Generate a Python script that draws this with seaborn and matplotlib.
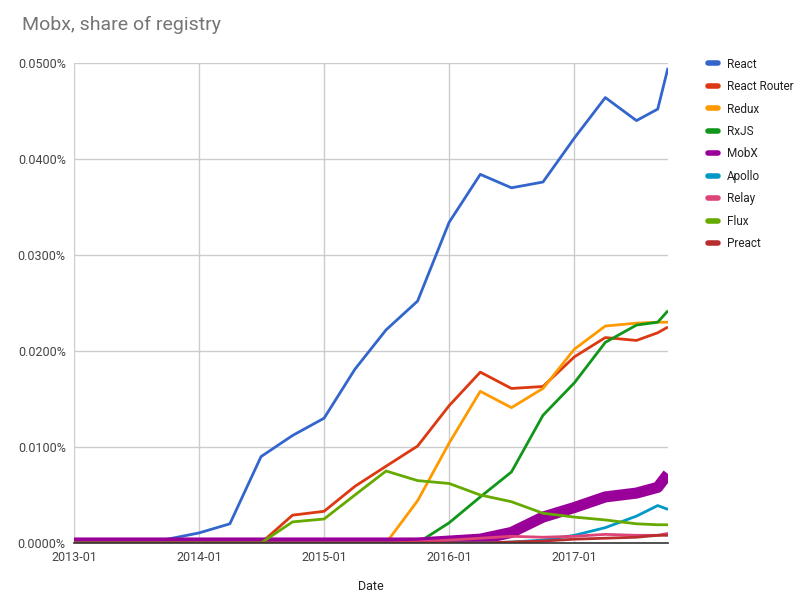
import pandas as pd
import matplotlib
matplotlib.use("Agg")
import matplotlib.pyplot as plt
import matplotlib.dates as mdates
from matplotlib.ticker import FuncFormatter
from matplotlib.lines import Line2D
import seaborn as sns

# quarterly points, then monthly at the end
dates = ["2013-01", "2013-04", "2013-07", "2013-10", "2014-01", "2014-04", "2014-07",
         "2014-10", "2015-01", "2015-04", "2015-07", "2015-10", "2016-01", "2016-04",
         "2016-07", "2016-10", "2017-01", "2017-04", "2017-07", "2017-09", "2017-10"]

react = [0, 0, 0, 0.0004, 0.00105, 0.0020, 0.0090, 0.0112, 0.0130, 0.0181, 0.0222,
         0.0252, 0.0334, 0.0384, 0.0370, 0.0376, 0.0422, 0.0464, 0.0440, 0.0452, 0.0495]
react_router = [0, 0, 0, 0, 0, 0, 0, 0.0029, 0.0033, 0.0059, 0.0080,
                0.0101, 0.0143, 0.0178, 0.0161, 0.0163, 0.0194, 0.0214, 0.0211, 0.0219, 0.0225]
redux = [0, 0, 0, 0, 0, 0, 0, 0, 0, 0, 0,
         0.0044, 0.0104, 0.0158, 0.0141, 0.0161, 0.0202, 0.0226, 0.0229, 0.0230, 0.0230]
rxjs = [0, 0, 0, 0, 0, 0, 0, 0, 0, 0, 0,
        0, 0.0021, 0.0048, 0.0074, 0.0133, 0.0167, 0.0209, 0.0227, 0.0230, 0.0242]
mobx = [0, 0, 0, 0, 0, 0, 0, 0, 0, 0, 0,
        0, 0.0002, 0.0004, 0.0011, 0.0027, 0.0037, 0.0048, 0.0052, 0.0058, 0.0072]
apollo = [0, 0, 0, 0, 0, 0, 0, 0, 0, 0, 0,
          0, 0, 0, 0.0001, 0.0003, 0.0008, 0.0016, 0.0028, 0.0039, 0.0035]
relay = [0, 0, 0, 0, 0, 0, 0, 0, 0, 0, 0,
         0.0001, 0.0003, 0.0005, 0.0007, 0.0006, 0.0007, 0.0009, 0.0008, 0.0008, 0.0010]
flux = [0, 0, 0, 0, 0, 0, 0, 0.0022, 0.0025, 0.0050, 0.0075,
        0.0065, 0.0062, 0.0050, 0.0043, 0.0031, 0.0027, 0.0024, 0.0020, 0.0019, 0.0019]
preact = [0, 0, 0, 0, 0, 0, 0, 0, 0, 0, 0,
          0, 0, 0, 0.0001, 0.0002, 0.0004, 0.0005, 0.0006, 0.0008, 0.0008]

names = ["React", "React Router", "Redux", "RxJS", "MobX", "Apollo", "Relay", "Flux", "Preact"]
series = [react, react_router, redux, rxjs, mobx, apollo, relay, flux, preact]
colors = ["#3366cc", "#dc3912", "#ff9900", "#109618", "#990099",
          "#0099c6", "#dd4477", "#66aa00", "#b82e2e"]

df = pd.DataFrame({"Date": pd.to_datetime(dates)})
for name, vals in zip(names, series):
    df[name] = vals
long_df = df.melt(id_vars="Date", var_name="lib", value_name="share")

sns.set_style("white")
plt.rcParams["font.family"] = ["Roboto", "DejaVu Sans"]

fig = plt.figure(figsize=(8.05, 6.04), dpi=100)
ax = fig.add_axes([74 / 805, 1 - 543 / 604, (668 - 74) / 805, (543 - 63) / 604])

for name, col in zip(names, colors):
    lw = 8 if name == "MobX" else 2
    sns.lineplot(data=long_df[long_df["lib"] == name], x="Date", y="share",
                 color=col, linewidth=lw, ax=ax, legend=False,
                 solid_joinstyle="round", solid_capstyle="butt")

ax.set_xlim(pd.Timestamp("2013-01-01"), pd.Timestamp("2017-10-01"))
ax.set_ylim(0, 0.05)
ax.yaxis.set_major_locator(plt.MultipleLocator(0.01))
ax.yaxis.set_major_formatter(FuncFormatter(lambda v, p: f"{v:.4f}%"))
ax.xaxis.set_major_locator(mdates.YearLocator())
ax.xaxis.set_major_formatter(mdates.DateFormatter("%Y-%m"))

ax.grid(True, color="#cccccc", linewidth=1)
ax.set_axisbelow(True)
for s in ["top", "right", "left"]:
    ax.spines[s].set_visible(False)
ax.spines["bottom"].set_color("#333333")
ax.spines["bottom"].set_linewidth(1.2)
ax.tick_params(axis="both", length=0, labelsize=9, colors="#444444", pad=6)

ax.set_xlabel("Date", fontsize=9, color="#222222", labelpad=11)
ax.set_ylabel("")

fig.text(22 / 805, 1 - 25 / 604, "Mobx, share of registry", fontsize=14,
         color="#757575", va="center", ha="left")

handles = [Line2D([0], [0], color=c, linewidth=4) for c in colors]
fig.legend(handles, names, loc="upper left", bbox_to_anchor=(697 / 805, 1 - 47 / 604),
           frameon=False, fontsize=8.5, handlelength=0.9, handletextpad=0.7,
           labelspacing=0.8, labelcolor="#222222")

fig.savefig("out.png", dpi=100)
